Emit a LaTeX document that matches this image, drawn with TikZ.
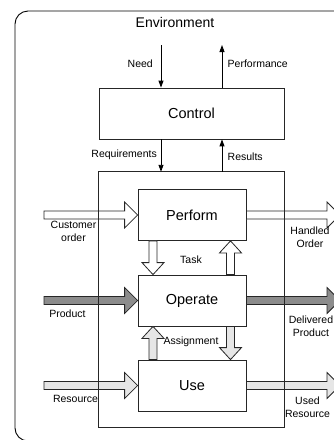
\documentclass[tikz,border=0pt]{standalone}
\usepackage{fontspec}
\setmainfont{Liberation Sans}
\usetikzlibrary{calc,arrows.meta}
\definecolor{darkfill}{HTML}{8C8C8C}
\definecolor{lightfill}{HTML}{E6E6E6}
\newcommand\blockarrow[6]{% from, to, fill, shaft half width, head half width, head length
  \coordinate (bab) at ($(#2)!#6!(#1)$);
  \path[blockar,fill=#3]
    ($(#1)!#4!90:(#2)$) -- ($(bab)!#4!-90:(#1)$) -- ($(bab)!#5!-90:(#1)$) -- (#2)
    -- ($(bab)!#5!90:(#1)$) -- ($(bab)!#4!90:(#1)$) -- ($(#1)!#4!-90:(#2)$) -- cycle;}
\begin{document}
\begin{tikzpicture}[x=1pt,y=-1pt,
  box/.style={draw=black!85, line width=0.8pt, fill=white, minimum width=108pt,
    minimum height=51pt, inner sep=0pt, font=\fontsize{14.5}{17}\selectfont},
  lbl/.style={font=\fontsize{10.5}{13}\selectfont, inner sep=0pt, align=center},
  thinarr/.style={draw=black, line width=0.9pt, -{Triangle[length=7pt,width=5pt]}},
  blockar/.style={draw=black!85, line width=0.8pt, line join=miter}]
\useasboundingbox (0,0) rectangle (334,440);
\clip (0,0) rectangle (334,440);
% environment frame
\draw[line width=0.9pt, rounded corners=13pt] (15,11) rectangle (350,441);
\node[font=\fontsize{14}{17}\selectfont, inner sep=0pt] (env) at (175,22) {Environment};
% boxes
\node[box, minimum width=185pt] (ctl) at (191.5,113.5) {Control};
\node[minimum width=185pt, minimum height=255pt, inner sep=0pt] (sys) at (191.5,299.5) {};
\node[box] (perf) at (192,215) {Perform};
\node[box] (oper) at (192,300.5) {Operate};
\node[box] (use) at (192,385.5) {Use};
% free ends
\coordinate (coS) at (44,215);
\coordinate (hoE) at (340,215);
\coordinate (prS) at (44,300.5);
\coordinate (dpE) at (340,300.5);
\coordinate (reS) at (44,385.5);
\coordinate (urE) at (340,385.5);
% horizontal block arrows
\blockarrow{coS}{perf.west}{white}{4pt}{13pt}{13pt}
\blockarrow{perf.east}{hoE}{white}{4pt}{13pt}{13pt}
\blockarrow{prS}{oper.west}{darkfill}{4pt}{13pt}{13pt}
\blockarrow{oper.east}{dpE}{darkfill}{4pt}{13pt}{13pt}
\blockarrow{reS}{use.west}{lightfill}{4pt}{13pt}{13pt}
\blockarrow{use.east}{urE}{lightfill}{4pt}{13pt}{13pt}
% vertical block arrows
\coordinate (tA) at ($(perf.south)+(-39,0)$);
\coordinate (tB) at ($(oper.north)+(-39,0)$);
\coordinate (tC) at ($(oper.north)+(38.5,0)$);
\coordinate (tD) at ($(perf.south)+(38.5,0)$);
\coordinate (aA) at ($(use.north)+(-39,0)$);
\coordinate (aB) at ($(oper.south)+(-39,0)$);
\coordinate (aC) at ($(oper.south)+(38.5,0)$);
\coordinate (aD) at ($(use.north)+(38.5,0)$);
\blockarrow{tA}{tB}{white}{4pt}{11pt}{12pt}
\blockarrow{tC}{tD}{white}{4pt}{11pt}{12pt}
\blockarrow{aA}{aB}{lightfill}{4pt}{11pt}{12pt}
\blockarrow{aC}{aD}{lightfill}{4pt}{11pt}{12pt}
% system frame on top
\draw[draw=black!85, line width=0.8pt] (sys.north west) rectangle (sys.south east);
% thin arrows
\coordinate (needT) at (161,45);
\coordinate (perfT) at (222,45);
\draw[thinarr] (needT) -- (needT |- ctl.north);
\draw[thinarr] (perfT |- ctl.north) -- (perfT);
\draw[thinarr] (needT |- ctl.south) -- (needT |- sys.north);
\draw[thinarr] (perfT |- sys.north) -- (perfT |- ctl.south);
% labels
\node[lbl, anchor=east] (lneed) at (153,64) {Need};
\node[lbl, anchor=west] (lperf) at (227.5,64) {Performance};
\node[lbl, anchor=east] (lreq) at (157,155) {Requirements};
\node[lbl, anchor=west] (lres) at (227.5,157) {Results};
\node[lbl] (lco) at (73.5,231.5) {Customer\\order};
\node[lbl] (lho) at (310,237.5) {Handled\\Order};
\node[lbl] (ltask) at (191,260) {Task};
\node[lbl] (lprod) at (67.5,314) {Product};
\node[lbl] (ldp) at (311,326) {Delivered\\Product};
\node[lbl] (lass) at (191,342) {Assignment};
\node[lbl] (lres2) at (75.5,399) {Resource};
\node[lbl] (lur) at (307.5,407.5) {Used\\Resource};
\end{tikzpicture}
\end{document}
